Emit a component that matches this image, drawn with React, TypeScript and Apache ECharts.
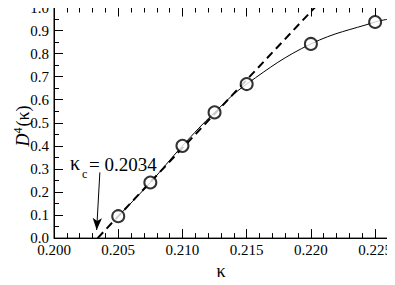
import React, { useEffect, useRef } from "react";
import * as echarts from "echarts";

const kappa = [0.205, 0.2075, 0.21, 0.2125, 0.215, 0.22, 0.225];
const d4 = [0.095, 0.241, 0.4, 0.545, 0.668, 0.842, 0.937];
const fitX = [0.205, 0.2075, 0.21, 0.2125, 0.215, 0.22, 0.225, 0.226];
const fitY = [0.095, 0.241, 0.4, 0.545, 0.668, 0.842, 0.937, 0.949];
const tangentX = [0.2034, 0.2203];
const tangentY = [0.0, 1.0];
const arrowFrom = [0.20357, 0.285];
const arrowTo = [0.20332, 0.035];
const kappaC = "0.2034";

const SERIF = "Liberation Serif";

export default function App() {
  const ref = useRef<HTMLDivElement>(null);
  useEffect(() => {
    if (!ref.current) return;
    const chart = echarts.init(ref.current, undefined, { renderer: "svg" });
    const axisCommon = {
      type: "value" as const,
      axisLine: { show: true, onZero: false, lineStyle: { color: "#000", width: 1 } },
      splitLine: { show: false },
    };
    chart.setOption({
      animation: false,
      backgroundColor: "#fff",
      textStyle: { fontFamily: SERIF },
      grid: { left: 54, top: 6, right: 7, bottom: 32, show: true, borderColor: "#000", borderWidth: 1 },
      xAxis: [
        {
          ...axisCommon,
          min: 0.2,
          max: 0.226,
          interval: 0.005,
          position: "bottom",
          axisTick: { show: true, inside: true, length: 9, lineStyle: { color: "#000" } },
          minorTick: { show: true, splitNumber: 5, length: 5, lineStyle: { color: "#000" } },
          axisLabel: {
            fontFamily: SERIF,
            fontSize: 15,
            color: "#000",
            margin: 4,
            showMaxLabel: false,
            formatter: (v: number) => v.toFixed(3),
          },
          name: "κ",
          nameLocation: "middle",
          nameGap: 22,
          nameTextStyle: { fontFamily: SERIF, fontSize: 18, color: "#000" },
        },
        {
          ...axisCommon,
          min: 0.2,
          max: 0.226,
          interval: 0.005,
          position: "top",
          axisTick: { show: true, inside: true, length: 9, lineStyle: { color: "#000" } },
          minorTick: { show: true, splitNumber: 5, length: 5, lineStyle: { color: "#000" } },
          axisLabel: { show: false },
        },
      ],
      yAxis: [
        {
          ...axisCommon,
          min: 0,
          max: 1,
          interval: 0.1,
          position: "left",
          axisTick: { show: true, inside: true, length: 9, lineStyle: { color: "#000" } },
          minorTick: { show: true, splitNumber: 2, length: 5, lineStyle: { color: "#000" } },
          axisLabel: {
            fontFamily: SERIF,
            fontSize: 15,
            color: "#000",
            margin: 5,
            formatter: (v: number) => v.toFixed(1),
          },
        },
      ],
      series: [
        {
          type: "line",
          smooth: 0.4,
          showSymbol: false,
          symbol: "none",
          data: fitX.map((x, i) => [x, fitY[i]]),
          lineStyle: { color: "#000", width: 1 },
          z: 2,
        },
        {
          type: "line",
          showSymbol: false,
          symbol: "none",
          data: tangentX.map((x, i) => [x, tangentY[i]]),
          lineStyle: { color: "#000", width: 2, type: [8, 5] },
          z: 3,
          markLine: {
            silent: true,
            symbol: ["none", "arrow"],
            symbolSize: [7, 12],
            label: { show: false },
            lineStyle: { color: "#000", width: 1, type: "solid" },
            data: [[{ coord: arrowFrom }, { coord: arrowTo }]],
          },
        },
        {
          type: "scatter",
          symbol: "circle",
          symbolSize: 12,
          data: kappa.map((x, i) => [x, d4[i]]),
          itemStyle: { color: "#fff", borderColor: "#000", borderWidth: 2 },
          z: 5,
        },
      ],
      graphic: [
        {
          type: "text",
          x: 22,
          y: 126,
          rotation: Math.PI / 2,
          style: {
            text: "{d|D}{s|4}{k|(κ)}",
            align: "center",
            verticalAlign: "middle",
            rich: {
              d: { fontFamily: SERIF, fontSize: 18, fontStyle: "italic", fill: "#000", verticalAlign: "bottom" },
              s: { fontFamily: SERIF, fontSize: 12, fill: "#000", verticalAlign: "top", padding: [0, 1, 8, 0] },
              k: { fontFamily: SERIF, fontSize: 18, fill: "#000", verticalAlign: "bottom" },
            },
          },
        },
        {
          type: "text",
          x: 70,
          y: 173,
          style: { text: "κ", fontFamily: SERIF, fontSize: 20, fill: "#000", verticalAlign: "bottom" },
        },
        {
          type: "text",
          x: 82,
          y: 180,
          style: { text: "c", fontFamily: SERIF, fontSize: 12, fill: "#000", verticalAlign: "bottom" },
        },
        {
          type: "text",
          x: 89,
          y: 174,
          style: { text: "= " + kappaC, fontFamily: SERIF, fontSize: 19, fill: "#000", verticalAlign: "bottom" },
        },
      ],
    });
    return () => chart.dispose();
  }, []);
  return <div ref={ref} style={{ width: 395, height: 285, margin: -8 }} />;
}
